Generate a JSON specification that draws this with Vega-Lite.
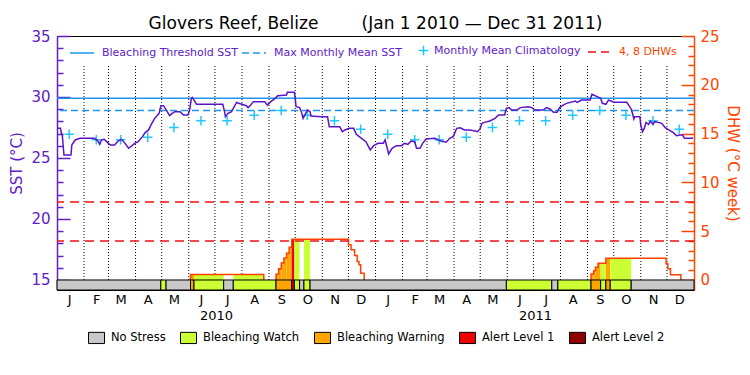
{
  "$schema": "https://vega.github.io/schema/vega-lite/v6.json",
  "width": 637,
  "height": 254,
  "autosize": {"type": "none"},
  "padding": {"left": 57, "top": 36, "right": 56, "bottom": 85},
  "background": "white",
  "config": {
    "font": "DejaVu Sans",
    "view": {"stroke": "black", "strokeWidth": 1},
    "axis": {"labelFont": "DejaVu Sans", "titleFont": "DejaVu Sans", "titleFontWeight": "normal", "grid": false, "labelFlush": false, "labelOverlap": false, "labelBound": false},
    "legend": {"labelFont": "DejaVu Sans", "padding": 0}
  },
  "title": {
    "text": "Glovers Reef, Belize\u00a0\u00a0\u00a0\u00a0\u00a0\u00a0\u00a0\u00a0(Jan 1 2010 \u2014 Dec 31 2011)",
    "fontSize": 17, "fontWeight": "normal", "font": "DejaVu Sans", "color": "black",
    "anchor": "middle", "frame": "group", "offset": -4
  },
  "datasets": {
    "sst": [
      {"date":"2010-01-01","sst":27.43},{"date":"2010-01-05","sst":27.43},{"date":"2010-01-06","sst":27.02},{"date":"2010-01-07","sst":26.94},
      {"date":"2010-01-08","sst":26.07},{"date":"2010-01-09","sst":25.25},{"date":"2010-01-17","sst":25.25},{"date":"2010-01-18","sst":26.07},
      {"date":"2010-01-20","sst":26.29},{"date":"2010-01-22","sst":26.48},{"date":"2010-01-27","sst":26.61},{"date":"2010-02-13","sst":26.61},
      {"date":"2010-02-17","sst":26.39},{"date":"2010-02-19","sst":26.12},{"date":"2010-02-21","sst":26.48},{"date":"2010-02-24","sst":26.53},
      {"date":"2010-02-27","sst":26.34},{"date":"2010-03-03","sst":26.07},{"date":"2010-03-08","sst":26.07},{"date":"2010-03-12","sst":26.39},
      {"date":"2010-03-16","sst":26.53},{"date":"2010-03-20","sst":26.2},{"date":"2010-03-24","sst":25.8},{"date":"2010-03-28","sst":26.01},
      {"date":"2010-03-31","sst":26.2},{"date":"2010-04-04","sst":26.34},{"date":"2010-04-09","sst":26.75},{"date":"2010-04-12","sst":27.08},
      {"date":"2010-04-16","sst":27.3},{"date":"2010-04-19","sst":27.76},{"date":"2010-04-23","sst":28.25},{"date":"2010-04-28","sst":28.66},
      {"date":"2010-04-30","sst":29.29},{"date":"2010-05-03","sst":29.29},{"date":"2010-05-07","sst":28.85},{"date":"2010-05-10","sst":28.47},
      {"date":"2010-05-13","sst":28.66},{"date":"2010-05-16","sst":28.8},{"date":"2010-05-22","sst":28.8},{"date":"2010-05-26","sst":28.52},
      {"date":"2010-05-31","sst":28.52},{"date":"2010-06-02","sst":28.93},{"date":"2010-06-04","sst":29.89},{"date":"2010-06-05","sst":29.97},
      {"date":"2010-06-07","sst":29.75},{"date":"2010-06-10","sst":29.4},{"date":"2010-07-10","sst":29.4},{"date":"2010-07-12","sst":28.8},
      {"date":"2010-07-13","sst":28.39},{"date":"2010-07-16","sst":28.66},{"date":"2010-07-20","sst":28.8},{"date":"2010-07-24","sst":29.34},
      {"date":"2010-07-26","sst":29.56},{"date":"2010-07-28","sst":29.48},{"date":"2010-08-01","sst":29.4},{"date":"2010-08-06","sst":29.29},
      {"date":"2010-08-08","sst":29.13},{"date":"2010-08-11","sst":29.34},{"date":"2010-08-14","sst":29.62},{"date":"2010-08-27","sst":29.62},
      {"date":"2010-08-30","sst":29.34},{"date":"2010-09-03","sst":29.62},{"date":"2010-09-08","sst":29.89},{"date":"2010-09-11","sst":30.1},
      {"date":"2010-09-21","sst":30.16},{"date":"2010-09-22","sst":30.38},{"date":"2010-09-30","sst":30.38},{"date":"2010-10-01","sst":29.89},
      {"date":"2010-10-02","sst":29.2},{"date":"2010-10-06","sst":29.13},{"date":"2010-10-08","sst":28.8},{"date":"2010-10-10","sst":28.25},
      {"date":"2010-10-13","sst":28.66},{"date":"2010-10-15","sst":28.93},{"date":"2010-10-18","sst":28.8},{"date":"2010-10-19","sst":28.44},
      {"date":"2010-10-31","sst":28.39},{"date":"2010-11-07","sst":28.39},{"date":"2010-11-09","sst":27.57},{"date":"2010-11-21","sst":27.57},
      {"date":"2010-11-24","sst":27.16},{"date":"2010-11-27","sst":27.3},{"date":"2010-12-02","sst":27.43},{"date":"2010-12-07","sst":27.43},
      {"date":"2010-12-10","sst":26.94},{"date":"2010-12-16","sst":26.61},{"date":"2010-12-21","sst":26.34},{"date":"2010-12-26","sst":25.66},
      {"date":"2010-12-30","sst":26.01},{"date":"2011-01-04","sst":26.2},{"date":"2011-01-10","sst":26.2},{"date":"2011-01-12","sst":26.48},
      {"date":"2011-01-15","sst":25.66},{"date":"2011-01-16","sst":25.33},{"date":"2011-01-20","sst":25.8},{"date":"2011-01-25","sst":26.01},
      {"date":"2011-01-31","sst":26.01},{"date":"2011-02-03","sst":26.2},{"date":"2011-02-07","sst":26.12},{"date":"2011-02-11","sst":26.39},
      {"date":"2011-02-15","sst":26.34},{"date":"2011-02-17","sst":25.8},{"date":"2011-02-21","sst":25.8},{"date":"2011-02-24","sst":26.2},
      {"date":"2011-02-28","sst":26.56},{"date":"2011-03-10","sst":26.61},{"date":"2011-03-14","sst":26.48},{"date":"2011-03-17","sst":26.39},
      {"date":"2011-03-23","sst":26.29},{"date":"2011-03-27","sst":26.61},{"date":"2011-03-31","sst":26.75},{"date":"2011-04-04","sst":27.43},
      {"date":"2011-04-08","sst":27.48},{"date":"2011-04-13","sst":27.3},{"date":"2011-04-19","sst":27.3},{"date":"2011-04-25","sst":27.21},
      {"date":"2011-04-28","sst":27.16},{"date":"2011-05-01","sst":27.43},{"date":"2011-05-03","sst":27.84},{"date":"2011-05-06","sst":27.92},
      {"date":"2011-05-12","sst":28.03},{"date":"2011-05-18","sst":28.25},{"date":"2011-05-22","sst":28.52},{"date":"2011-05-29","sst":28.52},
      {"date":"2011-05-31","sst":29.07},{"date":"2011-06-03","sst":29.13},{"date":"2011-06-06","sst":28.93},{"date":"2011-06-12","sst":28.93},
      {"date":"2011-06-16","sst":29.13},{"date":"2011-06-25","sst":29.2},{"date":"2011-06-29","sst":29.13},{"date":"2011-07-03","sst":28.93},
      {"date":"2011-07-12","sst":28.93},{"date":"2011-07-16","sst":29.13},{"date":"2011-07-20","sst":29.02},{"date":"2011-07-24","sst":28.75},
      {"date":"2011-07-28","sst":28.75},{"date":"2011-07-31","sst":29.13},{"date":"2011-08-04","sst":29.34},{"date":"2011-08-08","sst":29.48},
      {"date":"2011-08-18","sst":29.67},{"date":"2011-08-20","sst":29.56},{"date":"2011-08-25","sst":29.75},{"date":"2011-09-04","sst":29.75},
      {"date":"2011-09-06","sst":30.22},{"date":"2011-09-08","sst":30.16},{"date":"2011-09-12","sst":30.03},{"date":"2011-09-16","sst":29.89},
      {"date":"2011-09-18","sst":29.48},{"date":"2011-09-22","sst":29.4},{"date":"2011-09-25","sst":29.75},{"date":"2011-09-28","sst":29.67},
      {"date":"2011-10-01","sst":29.56},{"date":"2011-10-16","sst":29.56},{"date":"2011-10-21","sst":29.02},{"date":"2011-10-23","sst":28.52},
      {"date":"2011-10-24","sst":28.2},{"date":"2011-10-25","sst":28.39},{"date":"2011-10-31","sst":28.39},{"date":"2011-11-01","sst":27.7},
      {"date":"2011-11-03","sst":27.16},{"date":"2011-11-05","sst":27.43},{"date":"2011-11-07","sst":27.92},{"date":"2011-11-10","sst":27.76},
      {"date":"2011-11-12","sst":28.03},{"date":"2011-11-15","sst":27.76},{"date":"2011-11-17","sst":27.98},{"date":"2011-11-21","sst":27.92},
      {"date":"2011-11-25","sst":27.84},{"date":"2011-11-29","sst":27.48},{"date":"2011-12-03","sst":27.3},{"date":"2011-12-08","sst":27.1},
      {"date":"2011-12-12","sst":26.83},{"date":"2011-12-16","sst":26.88},{"date":"2011-12-19","sst":26.88},{"date":"2011-12-21","sst":26.61},
      {"date":"2011-12-31","sst":26.61}
    ],
    "clim": [
      {"date":"2010-01-15","sst":26.95,"series":"Monthly Mean Climatology"},{"date":"2010-02-15","sst":26.5,"series":"Monthly Mean Climatology"},
      {"date":"2010-03-15","sst":26.5,"series":"Monthly Mean Climatology"},{"date":"2010-04-15","sst":26.7,"series":"Monthly Mean Climatology"},
      {"date":"2010-05-15","sst":27.5,"series":"Monthly Mean Climatology"},{"date":"2010-06-15","sst":28.05,"series":"Monthly Mean Climatology"},
      {"date":"2010-07-15","sst":28.05,"series":"Monthly Mean Climatology"},{"date":"2010-08-15","sst":28.5,"series":"Monthly Mean Climatology"},
      {"date":"2010-09-15","sst":28.9,"series":"Monthly Mean Climatology"},{"date":"2010-10-15","sst":28.5,"series":"Monthly Mean Climatology"},
      {"date":"2010-11-15","sst":28.05,"series":"Monthly Mean Climatology"},{"date":"2010-12-15","sst":27.35,"series":"Monthly Mean Climatology"},
      {"date":"2011-01-15","sst":26.95,"series":"Monthly Mean Climatology"},{"date":"2011-02-15","sst":26.5,"series":"Monthly Mean Climatology"},
      {"date":"2011-03-15","sst":26.5,"series":"Monthly Mean Climatology"},{"date":"2011-04-15","sst":26.7,"series":"Monthly Mean Climatology"},
      {"date":"2011-05-15","sst":27.5,"series":"Monthly Mean Climatology"},{"date":"2011-06-15","sst":28.05,"series":"Monthly Mean Climatology"},
      {"date":"2011-07-15","sst":28.05,"series":"Monthly Mean Climatology"},{"date":"2011-08-15","sst":28.5,"series":"Monthly Mean Climatology"},
      {"date":"2011-09-15","sst":28.9,"series":"Monthly Mean Climatology"},{"date":"2011-10-15","sst":28.5,"series":"Monthly Mean Climatology"},
      {"date":"2011-11-15","sst":28.05,"series":"Monthly Mean Climatology"},{"date":"2011-12-15","sst":27.35,"series":"Monthly Mean Climatology"}
    ],
    "thresholds": [
      {"sst":29.9,"series":"Bleaching Threshold SST"},
      {"sst":28.9,"series":"Max Monthly Mean SST"}
    ],
    "months": [
      {"date":"2010-02-01"},{"date":"2010-03-01"},{"date":"2010-04-01"},{"date":"2010-05-01"},{"date":"2010-06-01"},{"date":"2010-07-01"},
      {"date":"2010-08-01"},{"date":"2010-09-01"},{"date":"2010-10-01"},{"date":"2010-11-01"},{"date":"2010-12-01"},{"date":"2011-01-01"},
      {"date":"2011-02-01"},{"date":"2011-03-01"},{"date":"2011-04-01"},{"date":"2011-05-01"},{"date":"2011-06-01"},{"date":"2011-07-01"},
      {"date":"2011-08-01"},{"date":"2011-09-01"},{"date":"2011-10-01"},{"date":"2011-11-01"},{"date":"2011-12-01"}
    ],
    "status": [
      {"start":"2010-01-01","end":"2010-04-30","status":"No Stress"},
      {"start":"2010-04-30","end":"2010-05-06","status":"Bleaching Watch"},
      {"start":"2010-05-06","end":"2010-06-03","status":"No Stress"},
      {"start":"2010-06-03","end":"2010-06-07","status":"Bleaching Warning"},
      {"start":"2010-06-07","end":"2010-07-11","status":"Bleaching Watch"},
      {"start":"2010-07-11","end":"2010-07-22","status":"No Stress"},
      {"start":"2010-07-22","end":"2010-09-09","status":"Bleaching Watch"},
      {"start":"2010-09-09","end":"2010-09-27","status":"Bleaching Warning"},
      {"start":"2010-09-27","end":"2010-09-30","status":"Alert Level 1"},
      {"start":"2010-09-30","end":"2010-10-06","status":"Bleaching Watch"},
      {"start":"2010-10-06","end":"2010-10-11","status":"No Stress"},
      {"start":"2010-10-11","end":"2010-10-18","status":"Bleaching Watch"},
      {"start":"2010-10-18","end":"2011-05-31","status":"No Stress"},
      {"start":"2011-05-31","end":"2011-07-22","status":"Bleaching Watch"},
      {"start":"2011-07-22","end":"2011-07-29","status":"No Stress"},
      {"start":"2011-07-29","end":"2011-09-05","status":"Bleaching Watch"},
      {"start":"2011-09-05","end":"2011-09-16","status":"Bleaching Warning"},
      {"start":"2011-09-16","end":"2011-09-22","status":"Bleaching Watch"},
      {"start":"2011-09-22","end":"2011-09-27","status":"Bleaching Warning"},
      {"start":"2011-09-27","end":"2011-10-21","status":"Bleaching Watch"},
      {"start":"2011-10-21","end":"2012-01-01","status":"No Stress"}
    ],
    "dhwfill": [
      {"start":"2010-06-03","end":"2010-06-07","dhw":0.57,"status":"Bleaching Warning"},
      {"start":"2010-06-07","end":"2010-07-11","dhw":0.57,"status":"Bleaching Watch"},
      {"start":"2010-07-22","end":"2010-08-26","dhw":0.57,"status":"Bleaching Watch"},
      {"start":"2010-09-09","end":"2010-09-12","dhw":0.58,"status":"Bleaching Warning"},
      {"start":"2010-09-12","end":"2010-09-15","dhw":1.15,"status":"Bleaching Warning"},
      {"start":"2010-09-15","end":"2010-09-18","dhw":1.75,"status":"Bleaching Warning"},
      {"start":"2010-09-18","end":"2010-09-21","dhw":2.25,"status":"Bleaching Warning"},
      {"start":"2010-09-21","end":"2010-09-24","dhw":2.75,"status":"Bleaching Warning"},
      {"start":"2010-09-24","end":"2010-09-27","dhw":3.35,"status":"Bleaching Warning"},
      {"start":"2010-09-27","end":"2010-09-30","dhw":4.17,"status":"Alert Level 1"},
      {"start":"2010-09-30","end":"2010-10-06","dhw":4.17,"status":"Bleaching Watch"},
      {"start":"2010-10-11","end":"2010-10-18","dhw":4.17,"status":"Bleaching Watch"},
      {"start":"2011-09-05","end":"2011-09-08","dhw":0.61,"status":"Bleaching Warning"},
      {"start":"2011-09-08","end":"2011-09-10","dhw":0.96,"status":"Bleaching Warning"},
      {"start":"2011-09-10","end":"2011-09-13","dhw":1.3,"status":"Bleaching Warning"},
      {"start":"2011-09-13","end":"2011-09-16","dhw":1.71,"status":"Bleaching Warning"},
      {"start":"2011-09-16","end":"2011-09-22","dhw":1.71,"status":"Bleaching Watch"},
      {"start":"2011-09-22","end":"2011-09-27","dhw":2.22,"status":"Bleaching Warning"},
      {"start":"2011-09-27","end":"2011-10-21","dhw":2.22,"status":"Bleaching Watch"}
    ],
    "dhwline": [
      {"date":"2010-06-03","dhw":0,"bump":"a"},{"date":"2010-06-03","dhw":0.57,"bump":"a"},{"date":"2010-08-26","dhw":0,"bump":"a"},
      {"date":"2010-09-09","dhw":0,"bump":"b"},{"date":"2010-09-09","dhw":0.58,"bump":"b"},{"date":"2010-09-12","dhw":1.15,"bump":"b"},
      {"date":"2010-09-15","dhw":1.75,"bump":"b"},{"date":"2010-09-18","dhw":2.25,"bump":"b"},{"date":"2010-09-21","dhw":2.75,"bump":"b"},
      {"date":"2010-09-24","dhw":3.35,"bump":"b"},{"date":"2010-09-27","dhw":4.17,"bump":"b"},{"date":"2010-12-01","dhw":3.6,"bump":"b"},
      {"date":"2010-12-04","dhw":3.1,"bump":"b"},{"date":"2010-12-08","dhw":2.5,"bump":"b"},{"date":"2010-12-11","dhw":1.9,"bump":"b"},
      {"date":"2010-12-13","dhw":1.55,"bump":"b"},{"date":"2010-12-15","dhw":0.7,"bump":"b"},{"date":"2010-12-19","dhw":0,"bump":"b"},
      {"date":"2011-09-05","dhw":0,"bump":"c"},{"date":"2011-09-05","dhw":0.61,"bump":"c"},{"date":"2011-09-08","dhw":0.96,"bump":"c"},
      {"date":"2011-09-10","dhw":1.3,"bump":"c"},{"date":"2011-09-13","dhw":1.71,"bump":"c"},{"date":"2011-09-22","dhw":2.22,"bump":"c"},
      {"date":"2011-11-30","dhw":1.7,"bump":"c"},{"date":"2011-12-02","dhw":1.15,"bump":"c"},{"date":"2011-12-05","dhw":0.55,"bump":"c"},
      {"date":"2011-12-17","dhw":0,"bump":"c"}
    ],
    "dhwlevels": [
      {"dhw":4,"series":"4, 8 DHWs"},
      {"dhw":8,"series":"4, 8 DHWs"}
    ]
  },
  "resolve": {"scale": {"y": "independent"}},
  "layer": [
    {
      "layer": [
        {
          "data": {"name": "months"},
          "mark": {"type": "rule", "color": "black", "strokeDash": [1, 2], "strokeWidth": 1},
          "encoding": {
            "x": {"field": "date", "type": "temporal",
              "scale": {"type": "utc", "nice": false, "domain": [{"year": 2010, "month": 1, "date": 1, "utc": true}, {"year": 2012, "month": 1, "date": 1, "utc": true}]},
              "axis": {
                "orient": "bottom",
                "tickCount": 100,
                "values": [
                  {"year":2010,"month":1,"date":15,"utc":true},{"year":2010,"month":2,"date":15,"utc":true},{"year":2010,"month":3,"date":15,"utc":true},
                  {"year":2010,"month":4,"date":15,"utc":true},{"year":2010,"month":5,"date":15,"utc":true},{"year":2010,"month":6,"date":15,"utc":true},
                  {"year":2010,"month":7,"date":15,"utc":true},{"year":2010,"month":8,"date":15,"utc":true},{"year":2010,"month":9,"date":15,"utc":true},
                  {"year":2010,"month":10,"date":15,"utc":true},{"year":2010,"month":11,"date":15,"utc":true},{"year":2010,"month":12,"date":15,"utc":true},
                  {"year":2011,"month":1,"date":15,"utc":true},{"year":2011,"month":2,"date":15,"utc":true},{"year":2011,"month":3,"date":15,"utc":true},
                  {"year":2011,"month":4,"date":15,"utc":true},{"year":2011,"month":5,"date":15,"utc":true},{"year":2011,"month":6,"date":15,"utc":true},
                  {"year":2011,"month":7,"date":15,"utc":true},{"year":2011,"month":8,"date":15,"utc":true},{"year":2011,"month":9,"date":15,"utc":true},
                  {"year":2011,"month":10,"date":15,"utc":true},{"year":2011,"month":11,"date":15,"utc":true},{"year":2011,"month":12,"date":15,"utc":true}
                ],
                "labelExpr": "substring(utcFormat(datum.value, '%B'), 0, 1)",
                "labelOverlap": false,
                "labelFlush": false,
                "ticks": false,
                "domainColor": "black",
                "domainWidth": 1,
                "labelColor": "black",
                "labelFontSize": 13,
                "labelPadding": 3,
                "title": "2010\u2003\u2003\u2003\u2003\u2003\u2003\u2003\u2003\u2003\u2003\u2003\u2003\u2003\u2003\u2003\u2003\u2003\u2003\u2003\u2003\u2003\u20032011",
                "titleFontSize": 13,
                "titleColor": "black",
                "titlePadding": 3
              }
            },
            "y": {"datum": 15, "type": "quantitative",
              "scale": {"domain": [14.18, 35], "nice": false, "zero": false},
              "axis": {
                "orient": "left",
                "tickCount": 100,
                "format": "d",
                "values": [15,16,17,18,19,20,21,22,23,24,25,26,27,28,29,30,31,32,33,34,35],
                "labelExpr": "datum.value % 5 === 0 ? datum.label : ''",
                "labelOverlap": false,
                "tickSize": {"condition": {"test": "datum.value % 5 === 0", "value": -13}, "value": -6},
                "tickColor": "#6020C8",
                "tickWidth": 1.5,
                "domainColor": "#6020C8",
                "domainWidth": 1.5,
                "labelColor": "#6020C8",
                "labelFontSize": 15,
                "labelPadding": 20,
                "title": "SST (\u00b0C)",
                "titleColor": "#6020C8",
                "titleFontSize": 15,
                "titlePadding": 6
              }
            },
            "y2": {"datum": 32.6}
          }
        },
        {
          "data": {"name": "thresholds"},
          "mark": {"type": "rule", "strokeWidth": 1.5},
          "encoding": {
            "y": {"field": "sst", "type": "quantitative"},
            "stroke": {"field": "series", "type": "nominal",
              "scale": {"domain": ["Bleaching Threshold SST", "Max Monthly Mean SST"], "range": ["#1E96F0", "#1E96F0"]},
              "legend": {"orient": "none", "legendX": 12, "legendY": 4, "direction": "horizontal", "columns": 2, "title": null,
                "labelColor": "#6020C8", "labelFontSize": 11, "symbolType": "stroke", "symbolSize": 576, "symbolStrokeWidth": 1.5,
                "columnPadding": 0, "labelOffset": 7}},
            "strokeDash": {"field": "series", "type": "nominal",
              "scale": {"domain": ["Bleaching Threshold SST", "Max Monthly Mean SST"], "range": [[1, 0], [7, 4]]},
              "legend": {"orient": "none", "legendX": 12, "legendY": 4, "direction": "horizontal", "columns": 2, "title": null,
                "labelColor": "#6020C8", "labelFontSize": 11, "symbolType": "stroke", "symbolSize": 576, "symbolStrokeWidth": 1.5,
                "columnPadding": 0, "labelOffset": 7}}
          }
        },
        {
          "data": {"name": "clim"},
          "mark": {"type": "point", "filled": false, "size": 90, "strokeWidth": 1.5, "opacity": 1, "color": "#20C8FF"},
          "encoding": {
            "x": {"field": "date", "type": "temporal"},
            "y": {"field": "sst", "type": "quantitative"},
            "shape": {"field": "series", "type": "nominal",
              "scale": {"range": ["M-1,0H1M0,-1V1"]},
              "legend": {"orient": "none", "legendX": 361, "legendY": 9, "title": null,
                "labelColor": "#6020C8", "labelFontSize": 11, "symbolSize": 90, "symbolStrokeWidth": 1.5,
                "symbolStrokeColor": "#20C8FF", "symbolFillColor": "transparent", "labelOffset": 5}}
          }
        },
        {
          "data": {"name": "sst"},
          "mark": {"type": "line", "color": "#5A14C8", "strokeWidth": 1.5},
          "encoding": {
            "x": {"field": "date", "type": "temporal"},
            "y": {"field": "sst", "type": "quantitative"}
          }
        }
      ]
    },
    {
      "layer": [
        {
          "data": {"name": "dhwfill"},
          "mark": {"type": "rect"},
          "encoding": {
            "x": {"field": "start", "type": "temporal"},
            "x2": {"field": "end"},
            "y": {"field": "dhw", "type": "quantitative",
              "scale": {"domain": [-1.025, 25], "nice": false, "zero": false},
              "axis": {
                "orient": "right",
                "tickCount": 100,
                "format": "d",
                "values": [0,1,2,3,4,5,6,7,8,9,10,11,12,13,14,15,16,17,18,19,20,21,22,23,24,25],
                "labelExpr": "datum.value % 5 === 0 ? datum.label : ''",
                "labelOverlap": false,
                "tickSize": {"condition": {"test": "datum.value % 5 === 0", "value": -13}, "value": -6},
                "tickColor": "#FF4500",
                "tickWidth": 1.5,
                "domainColor": "#FF4500",
                "domainWidth": 1.5,
                "labelColor": "#FF4500",
                "labelFontSize": 15,
                "labelPadding": 19,
                "title": "DHW (\u00b0C week)",
                "titleColor": "#FF4500",
                "titleFontSize": 15,
                "titlePadding": 5
              }
            },
            "y2": {"datum": 0},
            "fill": {"field": "status", "type": "nominal",
              "scale": {"domain": ["No Stress", "Bleaching Watch", "Bleaching Warning", "Alert Level 1", "Alert Level 2"],
                        "range": ["#C8C8C8", "#CCFF33", "#FFA500", "#F00000", "#900000"]},
              "legend": {"orient": "none", "legendX": 31, "legendY": 293, "direction": "horizontal", "columns": 5, "title": null,
                "symbolType": "M-1,-0.7H1V0.7H-1Z", "symbolSize": 256, "symbolStrokeColor": "black", "symbolStrokeWidth": 1,
                "labelFontSize": 11.5, "labelColor": "black", "columnPadding": 12, "labelOffset": 6}}
          }
        },
        {
          "data": {"name": "dhwline"},
          "mark": {"type": "line", "color": "#FF4000", "strokeWidth": 1.5, "interpolate": "step-after"},
          "encoding": {
            "x": {"field": "date", "type": "temporal"},
            "y": {"field": "dhw", "type": "quantitative"},
            "detail": {"field": "bump", "type": "nominal"}
          }
        },
        {
          "data": {"name": "dhwlevels"},
          "mark": {"type": "rule", "strokeDash": [9, 6], "strokeWidth": 1.5},
          "encoding": {
            "y": {"field": "dhw", "type": "quantitative"},
            "color": {"field": "series", "type": "nominal",
              "scale": {"range": ["#F01010"]},
              "legend": {"orient": "none", "legendX": 530, "legendY": 3, "title": null,
                "symbolType": "stroke", "symbolDash": [8, 5], "symbolSize": 576, "symbolStrokeWidth": 1.5,
                "labelColor": "#FF4500", "labelFontSize": 11, "labelOffset": 6}}
          }
        },
        {
          "data": {"name": "status"},
          "mark": {"type": "rect", "stroke": "black", "strokeWidth": 1},
          "encoding": {
            "x": {"field": "start", "type": "temporal"},
            "x2": {"field": "end"},
            "y": {"datum": -1.025, "type": "quantitative"},
            "y2": {"datum": 0},
            "fill": {"field": "status", "type": "nominal",
              "scale": {"domain": ["No Stress", "Bleaching Watch", "Bleaching Warning", "Alert Level 1", "Alert Level 2"],
                        "range": ["#C8C8C8", "#CCFF33", "#FFA500", "#F00000", "#900000"]},
              "legend": {"orient": "none", "legendX": 31, "legendY": 293, "direction": "horizontal", "columns": 5, "title": null,
                "symbolType": "M-1,-0.7H1V0.7H-1Z", "symbolSize": 256, "symbolStrokeColor": "black", "symbolStrokeWidth": 1,
                "labelFontSize": 11.5, "labelColor": "black", "columnPadding": 12, "labelOffset": 6}}
          }
        }
      ]
    }
  ]
}
